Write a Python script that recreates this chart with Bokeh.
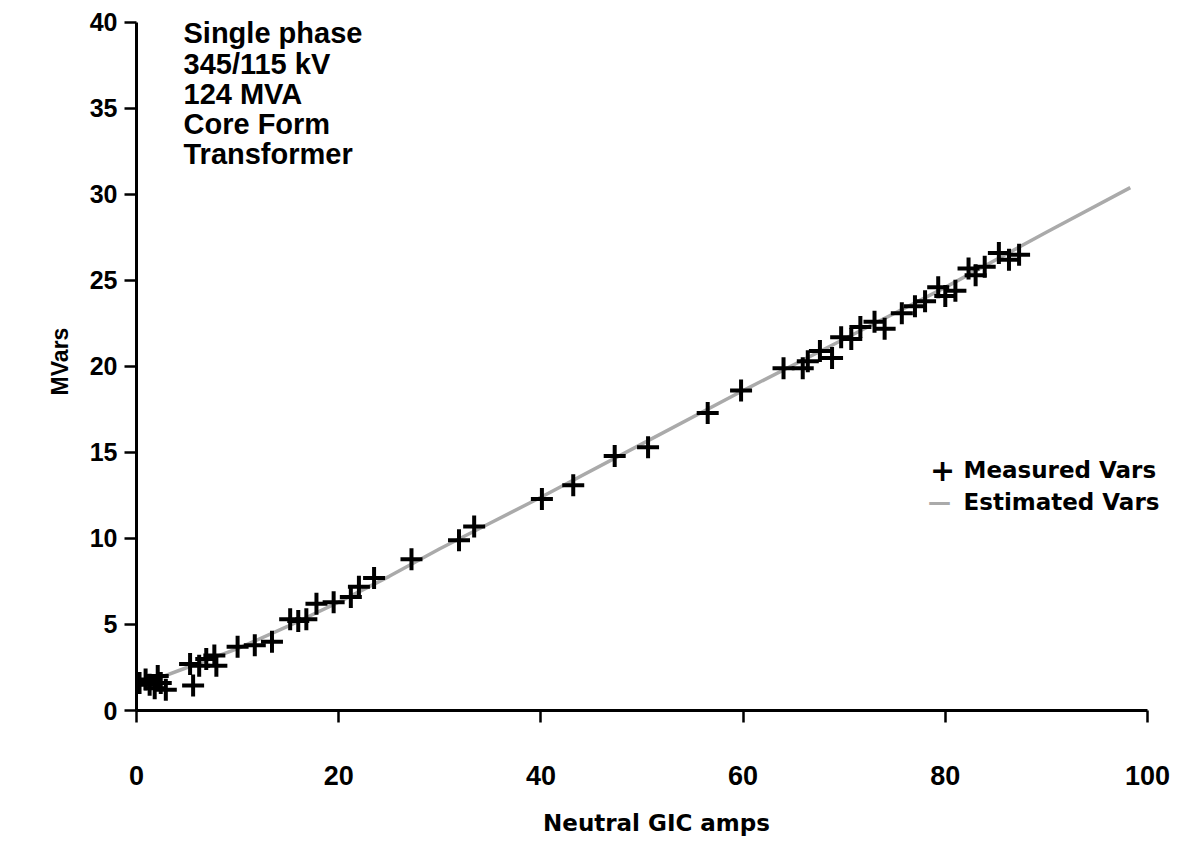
from bokeh.plotting import figure
from bokeh.models import ColumnDataSource, Label, FixedTicker, Range1d
from bokeh.embed import file_html
from bokeh.resources import INLINE

# Measured Vars (Neutral GIC amps, MVars)
measured_amps = [0.3, 0.9, 1.3, 1.8, 2.1, 2.4, 2.9,
                 5.3, 5.6, 6.2, 6.9, 7.7, 7.9,
                 10.0, 11.7, 13.4,
                 15.2, 16.0, 16.8, 17.8, 19.5, 21.2, 22.0, 23.5,
                 27.2, 31.9, 33.4, 40.1, 43.2, 47.3, 50.6, 56.5, 59.8,
                 64.0, 65.9, 66.4, 67.6, 68.8, 69.7, 70.7, 71.6, 73.0, 74.0,
                 75.7, 77.0, 78.0, 79.3, 80.0, 81.0, 82.3, 83.0, 83.9, 85.3, 86.3, 87.3]
measured_mvars = [1.6, 1.8, 1.5, 1.3, 2.0, 1.6, 1.2,
                  2.7, 1.45, 2.6, 3.0, 3.2, 2.6,
                  3.7, 3.8, 4.0,
                  5.3, 5.2, 5.3, 6.2, 6.3, 6.6, 7.2, 7.7,
                  8.8, 9.9, 10.7, 12.3, 13.1, 14.8, 15.3, 17.3, 18.6,
                  19.9, 19.9, 20.3, 20.9, 20.5, 21.7, 21.6, 22.3, 22.6, 22.2,
                  23.1, 23.5, 23.8, 24.6, 24.1, 24.4, 25.7, 25.3, 25.8, 26.6, 26.2, 26.5]

# Estimated Vars curve
estimated_amps = [0, 5, 10, 15, 20, 25, 30, 35, 40, 50, 60, 70, 80, 90, 98.3]
estimated_mvars = [1.4, 2.5, 3.6, 4.9, 6.3, 7.8, 9.4, 10.9, 12.4, 15.5, 18.6, 21.6, 24.6, 27.8, 30.4]

x_ticks = [0, 20, 40, 60, 80, 100]
y_ticks = [0, 5, 10, 15, 20, 25, 30, 35, 40]

note_lines = ["Single phase", "345/115 kV", "124 MVA", "Core Form", "Transformer"]
legend_labels = ["Measured Vars", "Estimated Vars"]

p = figure(frame_width=1040, frame_height=698,
           x_range=Range1d(0, 102.87), y_range=Range1d(0, 40.58),
           output_backend="svg", toolbar_location=None,
           min_border_left=136, min_border_right=0, min_border_top=12, min_border_bottom=10)
p.grid.visible = False
p.outline_line_color = None
p.background_fill_color = "white"
p.border_fill_color = "white"

est_src = ColumnDataSource(dict(x=estimated_amps, y=estimated_mvars))
meas_src = ColumnDataSource(dict(x=measured_amps, y=measured_mvars))

r_est = p.line("x", "y", source=est_src, line_color="#aaaaaa", line_width=3.5)
r_meas = p.scatter("x", "y", source=meas_src, marker="cross", size=22,
                   line_color="black", line_width=4)

# Axes
for ax in (p.xaxis[0], p.yaxis[0]):
    ax.axis_line_width = 3
    ax.axis_line_color = "black"
    ax.major_tick_line_width = 2.5
    ax.major_tick_line_color = "black"
    ax.major_tick_in = 0
    ax.major_tick_out = 12
    ax.minor_tick_line_color = None
    ax.major_label_text_color = "black"
    ax.axis_label_text_color = "black"
    ax.axis_label_text_font_style = "bold"
    ax.major_label_text_font_style = "bold"

p.xaxis.bounds = (0, 100)
p.yaxis.bounds = (0, 40)
p.xaxis.ticker = FixedTicker(ticks=x_ticks)
p.yaxis.ticker = FixedTicker(ticks=y_ticks)

p.xaxis.major_label_text_font = "Liberation Sans"
p.xaxis.major_label_text_font_size = "27px"
p.xaxis.major_label_standoff = 43
p.xaxis.axis_label = "Neutral GIC amps"
p.xaxis.axis_label_text_font = "DejaVu Sans"
p.xaxis.axis_label_text_font_size = "23px"
p.xaxis.axis_label_standoff = 22

p.yaxis.major_label_text_font = "Liberation Sans"
p.yaxis.major_label_text_font_size = "25px"
p.yaxis.major_label_standoff = 7
p.yaxis.axis_label = "MVars"
p.yaxis.axis_label_text_font = "Liberation Sans"
p.yaxis.axis_label_text_font_size = "23px"
p.yaxis.axis_label_standoff = 14

# Annotation text block
base_y = [678, 647, 617, 587, 557]
for txt, yy in zip(note_lines, base_y):
    p.add_layout(Label(x=47, y=yy, x_units="screen", y_units="screen", text=txt,
                       text_font="Liberation Sans", text_font_style="bold",
                       text_font_size="29px", text_color="black",
                       text_baseline="alphabetic", text_align="left"))

# Legend (drawn as labels so the symbols match the printed key)
leg_font = dict(text_font="DejaVu Sans", text_font_style="bold", text_font_size="23px",
                text_baseline="middle", x_units="screen", y_units="screen")
p.add_layout(Label(x=806, y=241, text="+", text_color="black", text_align="center",
                   **dict(leg_font, text_font_size="30px")))
p.add_layout(Label(x=827, y=241, text=legend_labels[0], text_color="black",
                   text_align="left", **leg_font))
p.add_layout(Label(x=803, y=209, text="\u2014", text_color="#aaaaaa", text_align="center",
                   **leg_font))
p.add_layout(Label(x=827, y=209, text=legend_labels[1], text_color="black",
                   text_align="left", **leg_font))

open("out.html", "w").write(file_html(p, INLINE))
